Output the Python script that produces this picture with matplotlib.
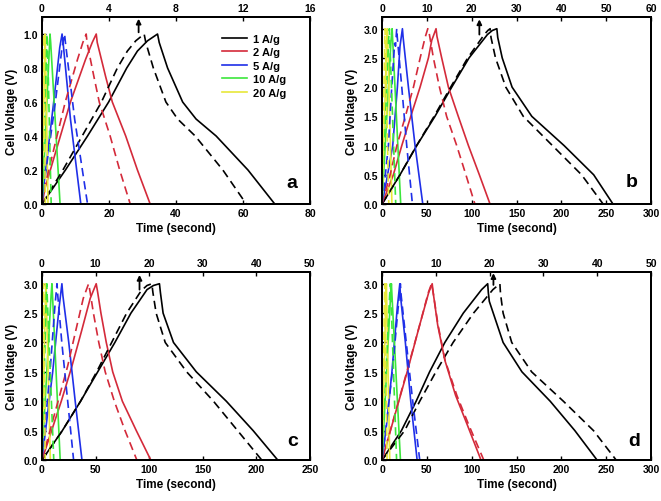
import matplotlib.pyplot as plt

plt.rcParams["font.family"] = ["Liberation Sans", "DejaVu Sans"]
plt.rcParams["font.weight"] = "bold"
plt.rcParams["axes.labelweight"] = "bold"

rates = ["1 A/g", "2 A/g", "5 A/g", "10 A/g", "20 A/g"]
colors = ["black", "#d42a3a", "#1f2fe8", "#3ce63c", "#e8e83a"]

# solid curves go on the bottom axis, dashed ones on the top axis
# order in every list: 1, 2, 5, 10, 20 A/g

# ---- panel a ----
a_solid_t = [
    [0, 7, 13.6, 19.9, 25.3, 28.5, 31.5, 34.5, 35, 37.5, 42, 46, 52, 61.5, 69.5],
    [0, 1, 8.5, 13, 15, 16.2, 16.5, 19, 21, 25, 28.5, 32.3],
    [0, 0.5, 3.5, 5.3, 6, 6.3, 8.5, 11.6, 20],
    [0, 0.3, 2.4, 2.6, 5.4],
    [0, 0.1, 0.9, 1.0, 1.8],
]
a_solid_v = [
    [0, 0.2, 0.4, 0.6, 0.8, 0.9, 0.96, 1.0, 0.95, 0.8, 0.6, 0.5, 0.4, 0.2, 0],
    [0, 0.1, 0.6, 0.85, 0.95, 1.0, 0.95, 0.75, 0.6, 0.4, 0.2, 0],
    [0, 0.1, 0.6, 0.92, 1.0, 0.95, 0.5, 0, 0],
    [0, 0.1, 1.0, 0.95, 0],
    [0, 0.1, 1.0, 0.95, 0],
]
a_dash_t = [
    [0, 1.25, 2.4, 3.55, 4.5, 5.1, 5.6, 6.1, 6.2, 6.65, 7.4, 8.1, 9.15, 10.8, 12.2],
    [0, 0.16, 1.39, 2.12, 2.44, 2.64, 2.69, 3.1, 3.42, 4.07, 4.64, 5.27],
    [0, 0.1, 0.8, 1.2, 1.35, 1.4, 1.95, 2.72],
    [0, 0.05, 0.3, 0.33, 0.55],
    [0, 0.01, 0.1, 0.11, 0.2],
]
a_dash_v = [
    [0, 0.2, 0.4, 0.6, 0.8, 0.9, 0.96, 1.0, 0.95, 0.8, 0.6, 0.5, 0.4, 0.2, 0],
    [0, 0.1, 0.6, 0.85, 0.95, 1.0, 0.95, 0.75, 0.6, 0.4, 0.2, 0],
    [0, 0.1, 0.6, 0.92, 1.0, 0.95, 0.5, 0],
    [0, 0.1, 1.0, 0.95, 0],
    [0, 0.1, 1.0, 0.95, 0],
]

# ---- panel b ----
b_solid_t = [
    [0, 20, 38.7, 59, 77.7, 97, 117.5, 123, 128, 129, 134, 145, 167, 203, 236, 257.5],
    [0, 12.6, 22, 32, 42.4, 51.7, 55.4, 60.2, 61.2, 66.5, 74, 85, 96.3, 108.5, 120.4],
    [0, 5, 11.9, 17.1, 20, 22.7, 23.5, 29.4, 36.8, 45.4, 150],
    [0, 1, 10, 11.2, 11.7, 20.8],
    [0, 0.5, 5.2, 5.9, 6.2, 11],
]
b_solid_v = [
    [0, 0.5, 1.0, 1.5, 2.0, 2.5, 2.9, 2.97, 3.0, 2.85, 2.5, 2.0, 1.5, 1.0, 0.5, 0],
    [0, 0.5, 1.0, 1.5, 2.0, 2.5, 2.8, 3.0, 2.87, 2.5, 2.0, 1.5, 1.0, 0.5, 0],
    [0, 0.4, 1.0, 2.0, 2.7, 3.0, 2.85, 2.0, 1.0, 0, 0],
    [0, 0.3, 2.8, 3.0, 2.85, 0],
    [0, 0.3, 2.8, 3.0, 2.85, 0],
]
b_dash_t = [
    [0, 4, 7.7, 11.6, 15.3, 19.1, 22.8, 23.6, 24.1, 24.3, 25.3, 27.6, 31.5, 38, 44.5, 49.3],
    [0, 1.8, 3.3, 5.2, 7.0, 8.5, 9.6, 10.2, 10.56, 11.45, 12.8, 14.4, 16.65, 18.7, 20.7],
    [0, 0.6, 1.41, 2.16, 2.8, 3.0, 3.27, 3.4, 4.4, 5.5, 6.77],
    [0, 0.15, 1.45, 1.63, 1.7, 3.05],
    [0, 0.06, 0.6, 0.67, 0.7, 1.5],
]
b_dash_v = [
    [0, 0.5, 1.0, 1.5, 2.0, 2.5, 2.9, 2.97, 3.0, 2.85, 2.5, 2.0, 1.5, 1.0, 0.5, 0],
    [0, 0.5, 1.0, 1.5, 2.0, 2.5, 2.85, 3.0, 2.9, 2.5, 2.0, 1.5, 1.0, 0.5, 0],
    [0, 0.4, 1.0, 2.0, 2.75, 2.7, 3.0, 2.85, 2.0, 1.0, 0],
    [0, 0.3, 2.8, 3.0, 2.85, 0],
    [0, 0.3, 2.8, 3.0, 2.85, 0],
]

# ---- panel c ----
c_solid_t = [
    [0, 19, 36, 52, 68, 83, 98, 104, 109.6, 110.5, 113, 122.7, 144, 172, 197, 219.9],
    [0, 9, 18, 28, 37, 45, 50.6, 52, 55, 60, 66, 75, 88, 101.5],
    [0, 4, 10, 16, 18.6, 19.5, 25, 31, 37.3, 60],
    [0, 0.8, 8.5, 9.3, 9.7, 17],
    [0, 0.4, 3.3, 3.7, 3.9, 7.8],
]
c_solid_v = [
    [0, 0.5, 1.0, 1.5, 2.0, 2.5, 2.9, 2.97, 3.0, 2.85, 2.5, 2.0, 1.5, 1.0, 0.5, 0],
    [0, 0.5, 1.0, 1.6, 2.2, 2.75, 3.0, 2.85, 2.5, 2.0, 1.5, 1.0, 0.5, 0],
    [0, 0.6, 1.5, 2.6, 3.0, 2.8, 2.0, 1.0, 0, 0],
    [0, 0.3, 2.8, 3.0, 2.85, 0],
    [0, 0.3, 2.8, 3.0, 2.85, 0],
]
c_dash_t = [
    [0, 3.8, 7.2, 10.2, 13, 15.8, 18.5, 19.6, 20.5, 20.7, 21.3, 23.0, 27, 32, 36.5, 41],
    [0, 1.5, 3, 4.8, 6.3, 7.7, 8.7, 9.0, 9.6, 10.6, 11.8, 13.5, 15.5, 17.7],
    [0, 0.6, 1.5, 2.4, 2.8, 2.95, 3.7, 4.8, 5.9],
    [0, 0.1, 0.8, 0.9, 0.95, 2.2],
    [0, 0.03, 0.27, 0.3, 0.32, 0.6],
]
c_dash_v = [
    [0, 0.5, 1.0, 1.5, 2.0, 2.5, 2.88, 2.97, 3.0, 2.85, 2.5, 2.0, 1.5, 1.0, 0.5, 0],
    [0, 0.5, 1.0, 1.6, 2.2, 2.75, 3.0, 2.85, 2.5, 2.0, 1.5, 1.0, 0.5, 0],
    [0, 0.6, 1.5, 2.6, 3.0, 2.8, 2.0, 1.0, 0],
    [0, 0.3, 2.8, 3.0, 2.85, 0],
    [0, 0.3, 2.8, 3.0, 2.85, 0],
]

# ---- panel d ----
d_solid_t = [
    [0, 21.6, 38, 53, 70, 90.6, 111, 117.8, 118.5, 119.6, 124, 135, 156, 187.5, 215, 239.7],
    [0, 14, 28, 42, 52, 55.9, 57, 62, 70, 82, 95, 110.3],
    [0, 5, 11, 17, 19.8, 20.5, 26, 32, 39.1, 70],
    [0, 1, 9.5, 10.4, 10.9, 20.5],
    [0, 0.5, 4.3, 4.8, 5.0, 8.6],
]
d_solid_v = [
    [0, 0.5, 1.0, 1.5, 2.0, 2.5, 2.9, 3.0, 2.85, 2.7, 2.5, 2.0, 1.5, 1.0, 0.5, 0],
    [0, 0.75, 1.5, 2.3, 2.85, 3.0, 2.85, 2.3, 1.7, 1.1, 0.6, 0],
    [0, 0.6, 1.5, 2.6, 3.0, 2.8, 2.0, 1.0, 0, 0],
    [0, 0.3, 2.8, 3.0, 2.85, 0],
    [0, 0.3, 2.8, 3.0, 2.85, 0],
]
d_dash_t = [
    [0, 4.2, 7.0, 10, 13.2, 17, 20.6, 21.9, 22.0, 22.2, 22.5, 24.1, 27.8, 33.7, 39.3, 43.5],
    [0, 2.3, 4.6, 7, 8.6, 9.2, 9.5, 10.4, 11.7, 13.9, 16.1, 18.9],
    [0, 0.8, 1.9, 3.0, 3.4, 3.55, 4.5, 5.7, 7.0],
    [0, 0.15, 1.4, 1.55, 1.62, 2.7],
    [0, 0.05, 0.45, 0.5, 0.53, 0.93],
]
d_dash_v = [
    [0, 0.5, 1.0, 1.5, 2.0, 2.5, 2.9, 3.0, 2.85, 2.7, 2.5, 2.0, 1.5, 1.0, 0.5, 0],
    [0, 0.75, 1.5, 2.3, 2.85, 3.0, 2.85, 2.3, 1.7, 1.1, 0.6, 0],
    [0, 0.6, 1.5, 2.6, 3.0, 2.8, 2.0, 1.0, 0],
    [0, 0.3, 2.8, 3.0, 2.85, 0],
    [0, 0.3, 2.8, 3.0, 2.85, 0],
]

fig = plt.figure(figsize=(6.61, 5.02), dpi=100)


def panel(rect, solid_t, solid_v, dash_t, dash_v, xmax, xstep, topmax, topstep,
          ymax, ystep, ytop, letter, letter_xy, arrow_x, arrow_y, legend=False):
    ax = fig.add_axes(rect)
    ax2 = ax.twiny()
    for i in range(len(rates)):
        ax.plot(solid_t[i], solid_v[i], color=colors[i], lw=1.2, label=rates[i])
        ax2.plot(dash_t[i], dash_v[i], color=colors[i], lw=1.2, linestyle=(0, (5, 3)))
    ax.set_xlim(0, xmax)
    ax2.set_xlim(0, topmax)
    ax.set_ylim(0, ytop)
    ax.set_xticks([x * xstep for x in range(int(xmax / xstep) + 1)])
    ax2.set_xticks([x * topstep for x in range(int(topmax / topstep) + 1)])
    yt = [round(y * ystep, 2) for y in range(int(round(ymax / ystep)) + 1)]
    ax.set_yticks(yt)
    ax.set_yticklabels([f"{y:.1f}" for y in yt])
    for a in (ax, ax2):
        a.tick_params(direction="in", length=3, width=1, labelsize=7.5, pad=3)
        for s in a.spines.values():
            s.set_linewidth(1.4)
    ax.set_xlabel("Time (second)", fontsize=8.5, labelpad=3)
    ax.set_ylabel("Cell Voltage (V)", fontsize=8.5, labelpad=4)
    ax.text(letter_xy[0], letter_xy[1], letter, fontsize=14, fontweight="bold")
    # arrow marks the curves that belong to the top axis
    ax2.annotate("", xy=(arrow_x, arrow_y[1]), xytext=(arrow_x, arrow_y[0]),
                 arrowprops=dict(arrowstyle="-|>", color="black", lw=1.3, mutation_scale=7,
                                 shrinkA=0, shrinkB=0))
    if legend:
        ax.legend(loc="upper left", bbox_to_anchor=(0.655, 0.935), frameon=False,
                  fontsize=8, handlelength=2.3, labelspacing=0.32, handletextpad=0.5,
                  borderaxespad=0)
    return ax


panel([0.0635, 0.5916, 0.4054, 0.3725], a_solid_t, a_solid_v, a_dash_t, a_dash_v,
      80, 20, 16, 4, 1.0, 0.2, 1.1, "a", (73, 0.1), 5.77, (1.01, 1.09), legend=True)
panel([0.578, 0.5916, 0.407, 0.3725], b_solid_t, b_solid_v, b_dash_t, b_dash_v,
      300, 50, 60, 10, 3.0, 0.5, 3.2, "b", (272, 0.3), 21.7, (2.9, 3.16))
panel([0.0635, 0.0817, 0.4054, 0.3745], c_solid_t, c_solid_v, c_dash_t, c_dash_v,
      250, 50, 50, 10, 3.0, 0.5, 3.2, "c", (229, 0.25), 18.2, (2.9, 3.15))
panel([0.578, 0.0817, 0.407, 0.3745], d_solid_t, d_solid_v, d_dash_t, d_dash_v,
      300, 50, 50, 10, 3.0, 0.5, 3.2, "d", (274, 0.25), 20.7, (2.98, 3.18))

fig.savefig("out.png", dpi=100)
